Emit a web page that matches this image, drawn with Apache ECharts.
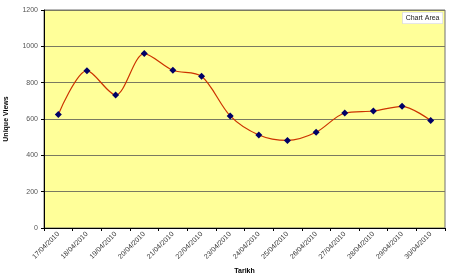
<!DOCTYPE html>
<html>
<head>
<meta charset="utf-8">
<script src="https://cdn.jsdelivr.net/npm/echarts@6/dist/echarts.min.js"></script>
<style>
html, body { margin: 0; padding: 0; background: #fff; }
#main { width: 450px; height: 276px; }
</style>
</head>
<body>
<div id="main"></div>
<script>
// data
let dates = ['17/04/2010', '18/04/2010', '19/04/2010', '20/04/2010', '21/04/2010', '22/04/2010', '23/04/2010',
	'24/04/2010', '25/04/2010', '26/04/2010', '27/04/2010', '28/04/2010', '29/04/2010', '30/04/2010']
let views = [625, 866, 732, 960, 868, 835, 617, 512, 482, 527, 633, 644, 670, 592]
let yTicks = [0, 200, 400, 600, 800, 1000, 1200]

let myChart = echarts.init(document.getElementById('main'))

let option = {
	animation: false,
	textStyle: { fontFamily: 'Arial' },
	grid: {
		left: 44,
		right: 5,
		top: 10,
		bottom: 48,
		outerBoundsMode: 'none',
		containLabel: false,
		backgroundColor: '#FFFF99',
		show: true,
		borderWidth: 1,
		borderColor: '#707070'
	},
	graphic: [{
		type: 'text',
		right: 7,
		top: 12,
		style: {
			text: 'Chart Area',
			font: '7px Arial',
			fill: '#222',
			backgroundColor: '#fff',
			borderColor: '#ccc',
			borderWidth: 0.5,
			padding: [2, 3]
		}
	}],
	xAxis: {
		type: 'category',
		data: dates,
		name: 'Tarikh',
		nameLocation: 'middle',
		nameGap: 40,
		nameTextStyle: { fontSize: 7, fontWeight: 'bold', color: '#000' },
		axisLine: { lineStyle: { color: '#000', width: 1 } },
		axisTick: { show: true, length: 3, lineStyle: { color: '#000' } },
		axisLabel: { rotate: 45, fontSize: 7, color: '#333', margin: 5 }
	},
	yAxis: {
		type: 'value',
		min: 0,
		max: 1200,
		interval: 200,
		name: 'Unique Views',
		nameLocation: 'middle',
		nameGap: 34,
		nameRotate: 90,
		nameTextStyle: { fontSize: 7, fontWeight: 'bold', color: '#000' },
		axisLine: { show: true, lineStyle: { color: '#000', width: 1 } },
		axisTick: { show: true, length: 3, lineStyle: { color: '#000' } },
		axisLabel: {
			fontSize: 7, color: '#555', margin: 6,
			formatter: function(v) { return yTicks.indexOf(v) >= 0 ? String(v) : '' }
		},
		splitLine: { lineStyle: { color: '#7a7a60', width: 1 } }
	},
	series: [{
		type: 'line',
		data: views,
		smooth: 0.3,
		symbol: 'diamond',
		symbolSize: 7,
		lineStyle: { color: '#CC3300', width: 1.2 },
		itemStyle: { color: '#000066' }
	}]
}

myChart.setOption(option)
</script>
</body>
</html>
